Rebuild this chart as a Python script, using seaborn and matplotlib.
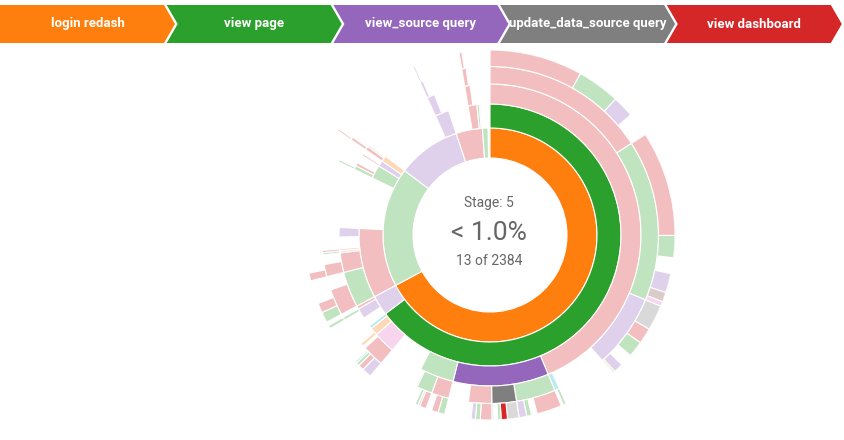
# Sequence sunburst of redash sessions, hovered on the 5-step path
import numpy as np
import pandas as pd
import matplotlib
matplotlib.use("Agg")
import matplotlib.pyplot as plt
from matplotlib.patches import Polygon
import seaborn as sns

sns.set_theme(style="white")
plt.rcParams['font.family'] = ['Roboto', 'DejaVu Sans']

# step codes used in the sequences
step_codes = ["L", "P", "S", "U", "D", "Q", "B", "O", "C", "X"]
step_names = ["login redash", "view page", "view_source query", "update_data_source query",
              "view dashboard", "view query", "create dashboard", "create query",
              "execute query", "view alert"]
palette_idx = [1, 2, 4, 7, 3, 6, 5, 8, 9, 2]

# sessions: steps joined by "-", "end" = session stops there
sequences = [
    "L-P-D-D-D", "L-P-D-D-P", "L-P-D-D-S", "L-P-D-D-end",
    "L-P-D-P-D", "L-P-D-P-P", "L-P-D-P-end", "L-P-D-P-S", "L-P-D-P-B", "L-P-D-P-Q",
    "L-P-D-S-U", "L-P-D-S-D", "L-P-D-S-P", "L-P-D-S-end", "L-P-D-S-S", "L-P-D-S-O",
    "L-P-D-end", "L-P-D-C-P", "L-P-D-C-end",
    "L-P-S-P-D", "L-P-S-P-end", "L-P-S-P-P", "L-P-S-P-S",
    "L-P-S-U-U", "L-P-S-U-D", "L-P-S-U-P", "L-P-S-U-end", "L-P-S-U-C",
    "L-P-S-D-D", "L-P-S-D-P", "L-P-S-D-S", "L-P-S-D-end",
    "L-P-S-end",
    "L-P-P-D-P", "L-P-P-D-D", "L-P-P-D-end",
    "L-P-P-P-D", "L-P-P-P-S", "L-P-P-P-P", "L-P-P-P-end",
    "L-P-P-S", "L-P-P-end",
    "L-P-end",
    "L-P-Q-D-S", "L-P-Q-D-D", "L-P-Q-D-P", "L-P-Q-D-C", "L-P-Q-D-end", "L-P-Q-end",
    "L-P-L-L", "L-P-L-end", "L-P-C",
    "L-S-end", "L-S-S-end", "L-S-S-P-P", "L-S-D",
    "P-D-P-D-P", "P-D-P-D-D", "P-D-P-D-end", "P-D-P-end",
    "P-D-D-D-D", "P-D-D-D-end", "P-D-D-end",
    "P-D-Q-P", "P-D-L-D", "P-D-end", "P-D-S",
    "P-end",
    "P-P-P-P", "P-P-P-end", "P-P-D", "P-P-end",
    "P-S-D", "P-S-end",
    "P-L-D-D-D", "P-L-D-D-end", "P-L-D-end", "P-L-P", "P-L-end",
    "S-end", "S-S-S-S-S", "S-S-S-S-end", "S-S-S-end", "S-S-end",
    "D-end", "D-D-D-D-D", "D-D-D-D-end", "D-D-D-end", "D-D-end", "D-P", "D-S",
    "X-S", "X-end",
    "end",
]
counts = [
    194, 89, 45, 50,
    219, 46, 33, 40, 20, 10,
    53, 33, 33, 26, 20, 4,
    116, 6, 5,
    52, 12, 10, 16,
    24, 13, 7, 8, 4,
    24, 10, 9, 10,
    45,
    14, 14, 12,
    14, 4, 6, 12,
    3, 8,
    86,
    20, 12, 7, 4, 7, 6,
    8, 12, 8,
    24, 20, 7, 8,
    22, 20, 18, 31,
    16, 12, 22,
    5, 5, 30, 24,
    152,
    5, 5, 8, 22,
    5, 12,
    4, 3, 3, 4, 3,
    188, 4, 3, 13, 21,
    58, 6, 4, 4, 12, 7, 4,
    3, 17,
    7,
]

hovered = "L-P-S-U-D"

pal = sns.color_palette("tab10")
colors = {c: pal[i] for c, i in zip(step_codes, palette_idx)}
names = dict(zip(step_codes, step_names))

# build the tree (children keep first-seen order)
root = {"children": {}, "value": 0}
for seq, n in zip(sequences, counts):
    node = root
    node["value"] += n
    for step in seq.split("-"):
        node = node["children"].setdefault(step, {"children": {}, "value": 0})
        node["value"] += n
total = root["value"]

rows = []


def layout(node, start, depth, path):
    x = start
    for step, child in node["children"].items():
        span = child["value"] / total * 2 * np.pi
        if step != "end":
            p = path + [step]
            rows.append({"depth": depth, "start": x, "span": span, "step": step,
                         "path": "-".join(p), "value": child["value"]})
            layout(child, x, depth + 1, p)
        x += span


layout(root, 0.0, 1, [])
arcs = pd.DataFrame(rows)


def arc_color(r):
    c = np.array(colors[r["step"]])
    if hovered.startswith(r["path"]) and hovered.split("-")[:r["depth"]] == r["path"].split("-"):
        return tuple(c)
    return tuple(c * 0.3 + 0.7)


arcs["color"] = arcs.apply(arc_color, axis=1)

ring = [77, 107, 131, 151, 168.5, 185]
cx, cy, R = 490, 235, 185
W, H = 844, 440

fig = plt.figure(figsize=(W / 100, H / 100), dpi=100)
ax = fig.add_axes([(cx - R) / W, (H - cy - R) / H, 2 * R / W, 2 * R / H], projection="polar")
ax.set_theta_zero_location("N")
ax.set_theta_direction(-1)

for depth, grp in arcs.groupby("depth"):
    ax.bar(grp["start"], ring[depth] - ring[depth - 1], width=grp["span"],
           bottom=ring[depth - 1], align="edge", color=list(grp["color"]),
           edgecolor="white", linewidth=0.8)
ax.set_ylim(0, R)
ax.axis("off")

# breadcrumb trail and centre labels
bc = fig.add_axes([0, 0, 1, 1])
bc.set_xlim(0, W)
bc.set_ylim(H, 0)
bc.axis("off")
bc.patch.set_visible(False)

trail = hovered.split("-")
w, h, s, t, y0 = 164, 38, 2.7, 11, 5
for i, code in enumerate(trail):
    x0 = i * (w + s)
    pts = [(x0, y0), (x0 + w, y0), (x0 + w + t, y0 + h / 2), (x0 + w, y0 + h), (x0, y0 + h)]
    if i > 0:
        pts.append((x0 + t, y0 + h / 2))
    bc.add_patch(Polygon(pts, closed=True, facecolor=colors[code], edgecolor="none"))
    bc.text(x0 + (w + t) / 2, y0 + h / 2, names[code], ha="center", va="center",
            color="white", fontsize=9.5, fontweight="bold",
            family=["Liberation Sans Narrow", "Roboto"])

hov_value = arcs.loc[arcs["path"] == hovered, "value"].iloc[0]
pct = hov_value / total * 100
pct_text = "< 1.0%" if pct < 1 else f"{pct:.1f}%"
bc.text(489, 203, f"Stage: {len(trail)}", ha="center", va="center", fontsize=10, color="#666666")
bc.text(489, 233, pct_text, ha="center", va="center", fontsize=19, color="#666666")
bc.text(489, 261, f"{hov_value} of {total}", ha="center", va="center", fontsize=10, color="#666666")

fig.savefig("out.png", dpi=100)
